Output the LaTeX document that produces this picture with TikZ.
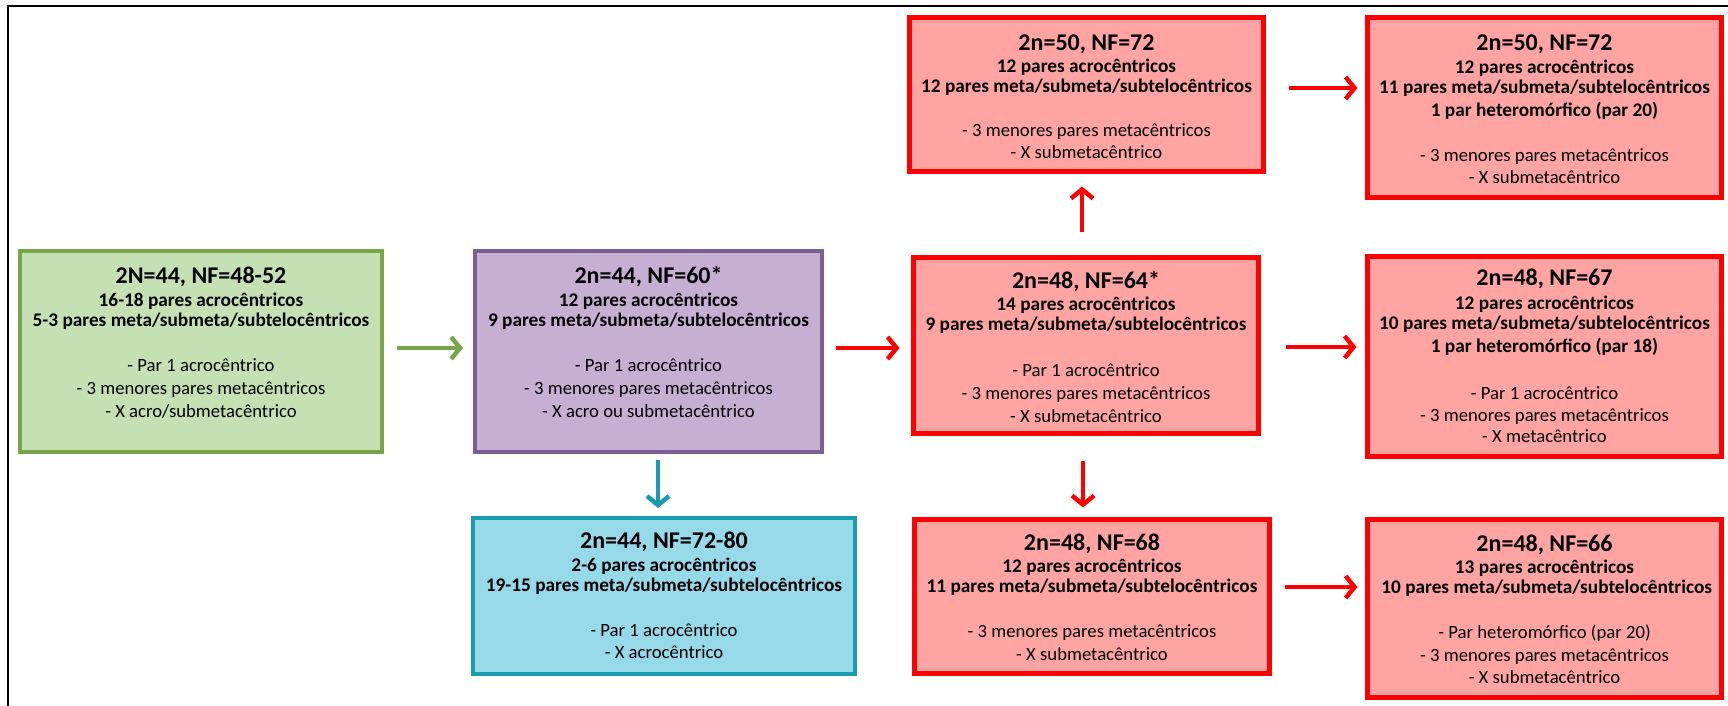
\documentclass[tikz,border=0pt]{standalone}
\usepackage{fontspec}
\setmainfont{Carlito}
\usetikzlibrary{arrows.meta}
\definecolor{gfill}{HTML}{C5E0B3}
\definecolor{gline}{HTML}{77A548}
\definecolor{pfill}{HTML}{C7AFD4}
\definecolor{pline}{HTML}{7E5C94}
\definecolor{cfill}{HTML}{96D9E8}
\definecolor{cline}{HTML}{1A9AAE}
\definecolor{rfill}{HTML}{FFA3A3}
\definecolor{rline}{HTML}{FF0000}
\newcommand{\kttl}[1]{{\fontsize{24}{20}\selectfont\bfseries\rule{0pt}{18pt}#1}}
\newcommand{\kbl}[1]{{\fontsize{19.3}{20}\selectfont\bfseries #1}}
\begin{document}
\begin{tikzpicture}[x=1pt,y=-1pt,
  box/.style={rectangle, inner sep=0pt},
  txt/.style={inner sep=0pt, align=center, anchor=north, font=\fontsize{18.7}{20}\selectfont},
  gbox/.style={box, draw=gline, fill=gfill, line width=4pt},
  pbox/.style={box, draw=pline, fill=pfill, line width=4pt},
  cbox/.style={box, draw=cline, fill=cfill, line width=4pt},
  rbox/.style={box, draw=rline, fill=rfill, line width=5pt},
  arr/.style={line width=4.5pt, -{Straight Barb[length=9pt,width=22pt]}},
  garr/.style={arr, draw=gline},
  carr/.style={arr, draw=cline},
  rarr/.style={arr, draw=rline}
]
\useasboundingbox (0,0) rectangle (1728,706);
\draw[line width=2.5pt] (1728,6) -- (8,6) -- (8,706);

% boxes
\node[gbox, minimum width=362, minimum height=201] (green) at (201,351.5) {};
\node[pbox, minimum width=347, minimum height=201] (purple) at (648.5,351.5) {};
\node[cbox, minimum width=382, minimum height=156] (cyan) at (664,596) {};
\node[rbox, minimum width=345, minimum height=176] (r1) at (1086,345.5) {};
\node[rbox, minimum width=354, minimum height=154] (r2) at (1086.5,94.5) {};
\node[rbox, minimum width=354, minimum height=180] (r3) at (1544.5,107.5) {};
\node[rbox, minimum width=354, minimum height=200] (r4) at (1544.5,356.5) {};
\node[rbox, minimum width=355, minimum height=154] (r5) at (1092,596.5) {};
\node[rbox, minimum width=354, minimum height=178] (r6) at (1544.5,608.5) {};

% texts (anchor = top of first line, 18pt above title baseline)
\node[txt] (greentxt) at (201,265) {%
\kttl{2N=44, NF=48-52}\\[3pt]
\kbl{16-18 pares acrocêntricos}\\
\kbl{5-3 pares meta/submeta/subtelocêntricos}\\[25pt]
- Par 1 acrocêntrico\\[3pt]
- 3 menores pares metacêntricos\\[3pt]
- X acro/submetacêntrico};

\node[txt] (purpletxt) at (648.5,265) {%
\kttl{2n=44, NF=60*}\\[3pt]
\kbl{12 pares acrocêntricos}\\
\kbl{9 pares meta/submeta/subtelocêntricos}\\[25pt]
- Par 1 acrocêntrico\\[3pt]
- 3 menores pares metacêntricos\\[3pt]
- X acro ou submetacêntrico};

\node[txt] (cyantxt) at (664,530) {%
\kttl{2n=44, NF=72-80}\\[3pt]
\kbl{2-6 pares acrocêntricos}\\
\kbl{19-15 pares meta/submeta/subtelocêntricos}\\[25pt]
- Par 1 acrocêntrico\\[2pt]
- X acrocêntrico};

\node[txt] (r1txt) at (1086,270) {%
\kttl{2n=48, NF=64*}\\[2pt]
\kbl{14 pares acrocêntricos}\\
\kbl{9 pares meta/submeta/subtelocêntricos}\\[26pt]
- Par 1 acrocêntrico\\[3pt]
- 3 menores pares metacêntricos\\[3pt]
- X submetacêntrico};

\node[txt] (r2txt) at (1086.5,32) {%
\kttl{2n=50, NF=72}\\[2pt]
\kbl{12 pares acrocêntricos}\\
\kbl{12 pares meta/submeta/subtelocêntricos}\\[24pt]
- 3 menores pares metacêntricos\\[2pt]
- X submetacêntrico};

\node[txt] (r3txt) at (1544.5,32) {%
\kttl{2n=50, NF=72}\\[3pt]
\kbl{12 pares acrocêntricos}\\
\kbl{11 pares meta/submeta/subtelocêntricos}\\[3pt]
\kbl{1 par heteromórfico (par 20)}\\[25pt]
- 3 menores pares metacêntricos\\[2pt]
- X submetacêntrico};

\node[txt] (r4txt) at (1544.5,267) {%
\kttl{2n=48, NF=67}\\[4pt]
\kbl{12 pares acrocêntricos}\\
\kbl{10 pares meta/submeta/subtelocêntricos}\\[3pt]
\kbl{1 par heteromórfico (par 18)}\\[27pt]
- Par 1 acrocêntrico\\[2pt]
- 3 menores pares metacêntricos\\[1pt]
- X metacêntrico};

\node[txt] (r5txt) at (1092,532) {%
\kttl{2n=48, NF=68}\\[2pt]
\kbl{12 pares acrocêntricos}\\
\kbl{11 pares meta/submeta/subtelocêntricos}\\[25pt]
- 3 menores pares metacêntricos\\[3pt]
- X submetacêntrico};

\node[txt] (r6txt) at (1544.5,533) {%
\kttl{2n=48, NF=66}\\[2pt]
\kbl{13 pares acrocêntricos}\\
\kbl{ 10 pares meta/submeta/subtelocêntricos}\\[25pt]
- Par heteromórfico (par 20)\\[3pt]
- 3 menores pares metacêntricos\\[2pt]
- X submetacêntrico};

% connectors
\draw[garr, shorten <=13pt, shorten >=10pt] ([yshift=3.5pt]green.east) -- ([yshift=3.5pt]purple.west);
\draw[rarr, shorten <=12pt, shorten >=11.5pt] ([yshift=3.5pt]purple.east) -- ([yshift=3.5pt]purple.east -| r1.west);
\draw[carr, shorten <=6pt, shorten >=8pt] ([xshift=9.5pt]purple.south) -- ([xshift=9.5pt]purple.south |- cyan.north);
\draw[rarr, shorten <=23.5pt, shorten >=12.5pt] ([xshift=-4pt]r1.north) -- ([xshift=-4pt]r1.north |- r2.south);
\draw[rarr, shorten <=24.5pt, shorten >=9.5pt] ([xshift=-3pt]r1.south) -- ([xshift=-3pt]r1.south |- r5.north);
\draw[rarr, shorten <=24.5pt, shorten >=8.5pt] ([yshift=-1.5pt]r1.east) -- ([yshift=-1.5pt]r1.east -| r4.west);
\draw[rarr, shorten <=22.5pt, shorten >=7.5pt] ([yshift=6.5pt]r2.east) -- ([yshift=6.5pt]r2.east -| r3.west);
\draw[rarr, shorten <=12.5pt, shorten >=7.5pt] ([yshift=9.5pt]r5.east) -- ([yshift=9.5pt]r5.east -| r6.west);
\end{tikzpicture}
\end{document}
